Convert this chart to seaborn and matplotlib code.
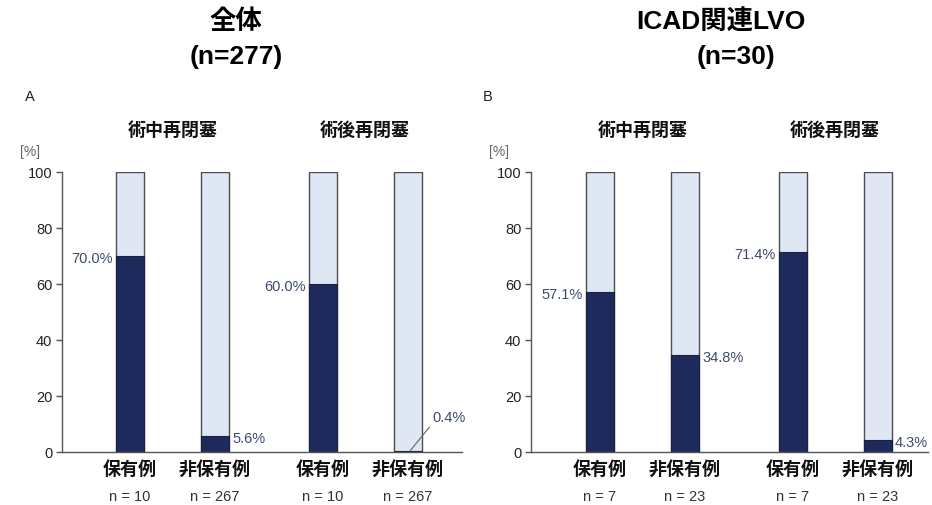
import matplotlib
matplotlib.use("Agg")
import matplotlib.pyplot as plt
import seaborn as sns
import pandas as pd

# ---- data ----
panel_titles = ["全体", "ICAD関連LVO"]
panel_ns = ["(n=277)", "(n=30)"]
panel_letters = ["A", "B"]
groups = ["術中再閉塞", "術後再閉塞"]
categories = ["保有例", "非保有例"]
overall_values = [70.0, 5.6, 60.0, 0.4]
overall_n = [10, 267, 10, 267]
icad_values = [57.1, 34.8, 71.4, 4.3]
icad_n = [7, 23, 7, 23]
yticks = [0, 20, 40, 60, 80, 100]

# ---- style / layout ----
sns.set_theme(style="white")
plt.rcParams["font.family"] = ["Liberation Sans", "Noto Sans CJK JP"]

DARK = "#1f2a5c"
LIGHT = "#dfe7f5"
EDGE = "#4d4d4d"
LABEL_C = "#3e4a70"
BAR_W = 0.33
GROUP_STEP = 2.265
label_sides = [["left", "right", "left", "leader"],
               ["left", "right", "left", "right"]]
axes_px = [(62, 462, -0.8), (531, 928, -0.812)]  # left px, right px, xlim left
title_x = [(236, 236), (721, 736)]
letter_x = [30, 488]
W, H = 932, 506

fig = plt.figure(figsize=(W / 100, H / 100), dpi=100)

panel_values = [overall_values, icad_values]
panel_n = [overall_n, icad_n]

for p in range(2):
    lpx, rpx, xl = axes_px[p]
    ax = fig.add_axes([lpx / W, (H - 453) / H, (rpx - lpx) / W, 280 / H])
    vals = panel_values[p]
    ns = panel_n[p]
    rows = []
    for gi, g in enumerate(groups):
        for ci, c in enumerate(categories):
            k = gi * len(categories) + ci
            rows.append({"pos": gi * GROUP_STEP + ci, "group": g, "cat": c,
                         "value": vals[k], "n": ns[k], "full": 100.0})
    df = pd.DataFrame(rows)

    sns.barplot(data=df, x="pos", y="full", native_scale=True, width=BAR_W,
                color=LIGHT, saturation=1, edgecolor=EDGE, linewidth=1.0,
                errorbar=None, ax=ax)
    sns.barplot(data=df, x="pos", y="value", native_scale=True, width=BAR_W,
                color=DARK, saturation=1, edgecolor="#1a2040", linewidth=0.8,
                errorbar=None, ax=ax)

    ax.set_ylim(0, 100)
    ax.set_xlim(xl, xl + (rpx - lpx) / 85.0)
    ax.set_yticks(yticks)
    ax.set_yticklabels([str(t) for t in yticks], fontsize=10.5, color="#222222")
    ax.set_xticks([])
    ax.set_xlabel("")
    ax.set_ylabel("")
    for s in ["top", "right"]:
        ax.spines[s].set_visible(False)
    for s in ["left", "bottom"]:
        ax.spines[s].set_color("#555555")
        ax.spines[s].set_linewidth(1.0)
    ax.tick_params(axis="y", direction="out", length=4, width=1, color="#555555",
                   pad=3, left=True)

    trans = ax.get_xaxis_transform()
    for _, r in df.iterrows():
        ax.text(r["pos"], -0.061, r["cat"], transform=trans, ha="center", va="center",
                fontsize=13, fontweight="bold", color="#111111")
        ax.text(r["pos"], -0.157, f"n = {r['n']}", transform=trans, ha="center",
                va="center", fontsize=10.5, color="#333333")
    for gi, g in enumerate(groups):
        gx = df[df["group"] == g]["pos"].mean()
        ax.text(gx, 1.15, g, transform=trans, ha="center", va="center",
                fontsize=13, fontweight="bold", color="#111111")

    for k, r in df.iterrows():
        side = label_sides[p][k]
        txt = f"{r['value']:.1f}%"
        if side == "left":
            ax.annotate(txt, xy=(r["pos"] - BAR_W / 2, r["value"]), xytext=(-3, -2),
                        textcoords="offset pixels", ha="right", va="center",
                        fontsize=10.5, color=LABEL_C)
        elif side == "right":
            ax.annotate(txt, xy=(r["pos"] + BAR_W / 2, r["value"]), xytext=(3, -2),
                        textcoords="offset pixels", ha="left", va="center",
                        fontsize=10.5, color=LABEL_C)
        else:
            ax.annotate(txt, xy=(r["pos"] + 0.03, r["value"]), xytext=(22, 27),
                        textcoords="offset pixels", ha="left", va="bottom",
                        fontsize=10.5, color=LABEL_C,
                        arrowprops=dict(arrowstyle="-", color="#666666", lw=0.8,
                                        relpos=(0, 0), shrinkA=0, shrinkB=0))

    fig.text((lpx - 32) / W, 1 - 152 / H, "[%]", ha="center", va="center",
             fontsize=10, color="#666666")
    fig.text(letter_x[p] / W, 1 - 97 / H, panel_letters[p], ha="center", va="center",
             fontsize=10.5, color="#222222")
    fig.text(title_x[p][0] / W, 1 - 22 / H, panel_titles[p], ha="center", va="center",
             fontsize=19, fontweight="bold", color="#000000")
    fig.text(title_x[p][1] / W, 1 - 57 / H, panel_ns[p], ha="center", va="center",
             fontsize=19, fontweight="bold", color="#000000")

fig.savefig("out.png", dpi=100, facecolor="white")
